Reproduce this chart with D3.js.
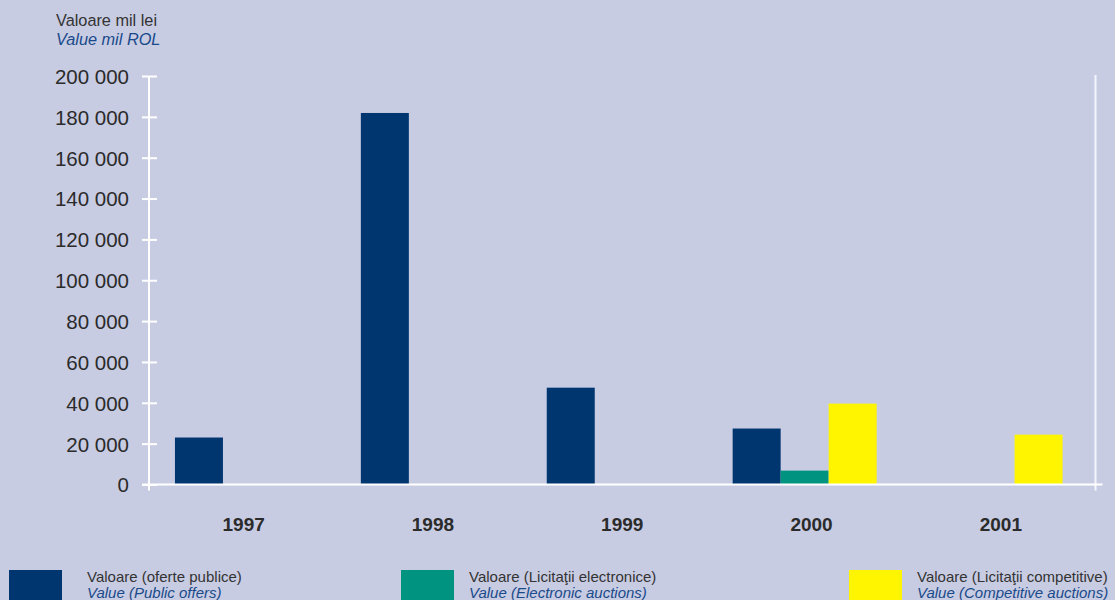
<!DOCTYPE html>
<html>
<head>
<meta charset="utf-8">
<script src="https://cdnjs.cloudflare.com/ajax/libs/d3/7.8.5/d3.min.js"></script>
<style>
  body { margin: 0; background: #c8cce3; }
  svg { display: block; font-family: "Liberation Sans", Arial, sans-serif; }
</style>
</head>
<body>
<div id="vizcont"></div>
<script>
// data (mil lei)
var years = ["1997", "1998", "1999", "2000", "2001"];
var publicOffers = [23000, 181900, 47400, 27400, 0];
var electronicAuctions = [0, 0, 0, 6800, 0];
var competitiveAuctions = [0, 0, 0, 39600, 24400];
var yTicks = [0, 20000, 40000, 60000, 80000, 100000, 120000, 140000, 160000, 180000, 200000];

var seriesNames = ["Valoare (oferte publice)", "Valoare (Licitaţii electronice)", "Valoare (Licitaţii competitive)"];
var seriesNamesEn = ["Value (Public offers)", "Value (Electronic auctions)", "Value (Competitive auctions)"];
var seriesColors = ["#003670", "#009480", "#fff500"];

function draw_chart() {
    var width = 1115, height = 600;
    var left = 149, right = 1095.5, top = 76, bottom = 484.5;

    var svg = d3.select("#vizcont")
                .append("svg")
                .attr("width", width)
                .attr("height", height);

    svg.append("rect")
       .attr("width", width)
       .attr("height", height)
       .attr("fill", "#c8cce3");

    var y = d3.scaleLinear().domain([0, 200000]).range([bottom, top]);

    // category labels use the full axis, bar groups sit a little off it
    var x = d3.scaleBand().domain(years).range([left, right]);
    var xg = d3.scaleBand().domain(years).range([left + 5, right - 12]);
    var xs = d3.scaleBand().domain([0, 1, 2]).range([0, 144]);

    var series = [publicOffers, electronicAuctions, competitiveAuctions];

    // bars
    series.forEach(function(vals, s) {
        svg.append("g")
           .selectAll("rect")
           .data(vals)
           .enter()
           .append("rect")
           .attr("x", function(d, i) { return xg(years[i]) + (xg.bandwidth() - 144) / 2 + xs(s); })
           .attr("y", function(d) { return y(d); })
           .attr("width", xs.bandwidth())
           .attr("height", function(d) { return bottom - y(d); })
           .attr("fill", seriesColors[s]);
    });

    // y axis
    var yAxis = d3.axisLeft(y)
                  .tickValues(yTicks)
                  .tickSize(0)
                  .tickPadding(20)
                  .tickFormat(function(d) { return d3.format(",")(d).replace(/,/g, " "); });
    var gy = svg.append("g")
                .attr("transform", "translate(" + left + ",0)")
                .call(yAxis);
    gy.select(".domain").remove();
    gy.selectAll("text")
      .attr("dy", "0.36em")
      .style("font-size", "20.5px")
      .style("fill", "#2b2b2b");
    gy.selectAll(".tick")
      .append("line")
      .attr("x1", -7)
      .attr("x2", 8)
      .attr("stroke", "#ffffff")
      .attr("stroke-width", 2);

    // axis lines
    svg.append("line")
       .attr("x1", left).attr("x2", left)
       .attr("y1", top).attr("y2", bottom + 6)
       .attr("stroke", "#ffffff").attr("stroke-width", 2);
    svg.append("line")
       .attr("x1", right).attr("x2", right)
       .attr("y1", top - 1).attr("y2", bottom + 6)
       .attr("stroke", "#f4f5fb").attr("stroke-width", 2);
    svg.append("line")
       .attr("x1", left - 7).attr("x2", right + 7)
       .attr("y1", bottom).attr("y2", bottom)
       .attr("stroke", "#ffffff").attr("stroke-width", 2);

    // x labels
    svg.append("g")
       .selectAll("text")
       .data(years)
       .enter()
       .append("text")
       .attr("x", function(d) { return x(d) + x.bandwidth() / 2; })
       .attr("y", 531)
       .attr("text-anchor", "middle")
       .style("font-size", "19px")
       .style("font-weight", "bold")
       .style("fill", "#2b2b2b")
       .text(function(d) { return d; });

    // unit title
    svg.append("text")
       .attr("x", 56).attr("y", 26)
       .style("font-size", "16.3px")
       .style("fill", "#333333")
       .text("Valoare mil lei");
    svg.append("text")
       .attr("x", 56).attr("y", 45)
       .style("font-size", "16.3px")
       .style("font-style", "italic")
       .style("fill", "#1a4a8a")
       .text("Value mil ROL");

    // legend
    var legendX = [9, 401, 849];
    var legendTextX = [87, 469, 917];
    var lg = svg.append("g")
                .selectAll("g")
                .data(seriesNames)
                .enter()
                .append("g");
    lg.append("rect")
      .attr("x", function(d, i) { return legendX[i]; })
      .attr("y", 570)
      .attr("width", 53)
      .attr("height", 40)
      .attr("fill", function(d, i) { return seriesColors[i]; });
    lg.append("text")
      .attr("x", function(d, i) { return legendTextX[i]; })
      .attr("y", 582)
      .style("font-size", "15px")
      .style("fill", "#333333")
      .text(function(d) { return d; });
    lg.append("text")
      .attr("x", function(d, i) { return legendTextX[i]; })
      .attr("y", 597.5)
      .style("font-size", "15px")
      .style("font-style", "italic")
      .style("fill", "#1a4a8a")
      .text(function(d, i) { return seriesNamesEn[i]; });
}

draw_chart();
</script>
</body>
</html>
